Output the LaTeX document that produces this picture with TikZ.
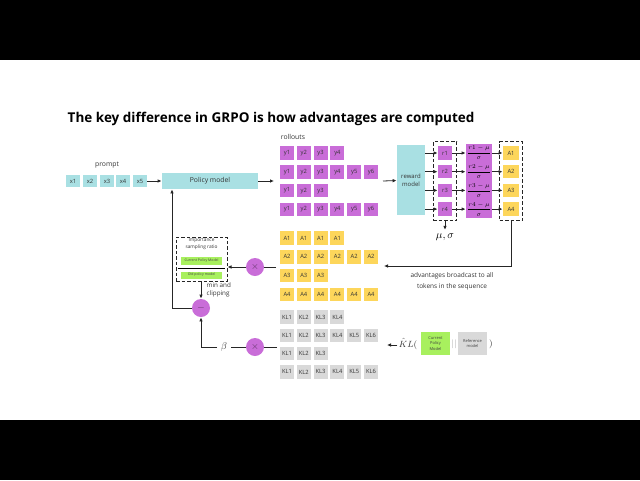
\documentclass[tikz,border=0pt]{standalone}
\usepackage{fontspec}
\setmainfont{Open Sans}
\setsansfont{Open Sans}
\usepackage{xcolor}
\definecolor{colPrompt}{HTML}{A9E0E3}
\definecolor{colRoll}{HTML}{C96DD8}
\definecolor{colAdv}{HTML}{FDD65B}
\definecolor{colKL}{HTML}{D9D9D9}
\definecolor{colPol}{HTML}{A8F05E}
\colorlet{colLine}{black!85}
\usepackage{amsmath}
\usepackage{tikz}
\usetikzlibrary{arrows.meta, positioning, calc, fit}

\begin{document}
\begin{tikzpicture}[x=1pt, y=-1pt, line width=0.8pt, >={Latex[length=4pt, width=3.6pt]},
	tok/.style={minimum width=14pt, minimum height=13.5pt, inner sep=0pt, text=black!80, font=\fontsize{5.8}{6}\selectfont},
	lbl/.style={text=black!80, font=\fontsize{6.8}{8}\selectfont},
	dashbox/.style={draw=colLine, dash pattern=on 3.5pt off 2pt, line width=1pt},
	opcirc/.style={circle, fill=colRoll, minimum size=18pt, inner sep=0pt, text=colRoll!45!black},
	frac/.style={fill=colRoll, minimum width=26pt, minimum height=18.5pt, inner sep=0pt, font=\fontsize{6.2}{7}\selectfont}]
	\useasboundingbox (0,0) rectangle (640,480);
	\fill[black] (0,0) rectangle (640,60);
	\fill[black] (0,420) rectangle (640,480);
	\node[anchor=west, font=\bfseries\fontsize{13.5}{15}\selectfont] (title) at (64,119) {The key difference in GRPO is how advantages are computed};
	% prompt and policy model
	\node[lbl] (prompt) at (107,165) {prompt};
	\foreach \c [count=\i] in {73,90,107,123,140}
		\node[tok, fill=colPrompt, minimum height=12.5pt] (x\i) at (\c,181) {x\i};
	\node[fill=colPrompt, minimum width=96pt, minimum height=16pt, inner sep=0pt, lbl] (policy) at (210,181) {Policy model};
	\draw[->, colLine] (x5) -- (policy);
	% rollouts
	\node[lbl] (rollouts) at (293,137) {rollouts};
	\foreach \len [count=\r] in {4,6,3,6} {
		\foreach \c in {1,...,\len}
			\node[tok, fill=colRoll] (y\r\c) at ({287+16.8*(\c-1)}, {153+18.8*(\r-1)}) {y\c};
	}
	\coordinate (rollin) at (274,181);
	\coordinate (rollout) at (383,181);
	\draw[->, colLine] (policy) -- (rollin);
	% reward model and normalisation
	\node[fill=colPrompt, minimum width=28pt, minimum height=70pt, inner sep=0pt, align=center, font=\fontsize{6}{7.5}\selectfont, text=black!80] (reward) at (411,180) {reward\\model};
	\draw[->, colLine] (rollout) -- (reward);
	\foreach \i in {1,...,4} {
		\node[tok, fill=colRoll] (r\i) at (445, {153+18.7*(\i-1)}) {r\i};
		\node[frac] (f\i) at (479, {153+18.7*(\i-1)}) {$\dfrac{r\i-\mu}{\sigma}$};
		\node[tok, fill=colAdv, minimum width=16pt] (a\i) at (511, {153+18.7*(\i-1)}) {A\i};
	}
	\node[dashbox, fit=(r1)(r4), inner xsep=4.5pt, inner ysep=4pt] (rbox) {};
	\node[dashbox, fit=(a1)(a4), inner xsep=3pt, inner ysep=4pt] (abox) {};
	\foreach \i in {1,...,4} {
		\draw[->, colLine] (reward.east |- r\i) -- (r\i);
		\draw[->, colLine] (r\i) -- (f\i);
		\draw[->, colLine] (f\i) -- (a\i);
	}
	\node[font=\fontsize{11}{12}\selectfont] (musig) at (445,237) {$\mu,\sigma$};
	\draw[->, colLine] (rbox.south) -- (musig.north);
	% advantages
	\foreach \len [count=\r] in {4,6,3,6} {
		\foreach \c in {1,...,\len}
			\node[tok, fill=colAdv] (adv\r\c) at ({287+16.8*(\c-1)}, {238+18.8*(\r-1)}) {A\r};
	}
	\coordinate (bcend) at (384,266);
	\draw[->, colLine] (abox.south) |- (bcend);
	\node[lbl, align=center, font=\fontsize{6.5}{11}\selectfont] (bctext) at (452,281) {advantages broadcast to all\\tokens in the sequence};
	% importance sampling ratio
	\node[dashbox, minimum width=51pt, minimum height=44pt] (isr) at (201.5,259) {};
	\node[align=center, text=black!80, font=\fontsize{4.8}{7}\selectfont] (isrtext) at (201.5,244) {Importance\\sampling ratio};
	\node[fill=colPol, minimum width=41pt, minimum height=8pt, inner sep=0pt, font=\fontsize{3.5}{4}\selectfont, text=black!75] (curpol) at (201.5,261) {Current Policy Model};
	\node[fill=colPol, minimum width=41pt, minimum height=7pt, inner sep=0pt, font=\fontsize{3.5}{4}\selectfont, text=black!75] (oldpol) at (201.5,275) {Old policy model};
	\draw[line width=0.6pt] ($(curpol.south west)+(-3,3)$) -- ($(curpol.south east)+(3,3)$);
	\node[opcirc] (mulA) at (255,267) {$\times$};
	\coordinate (advout) at (276,267);
	\draw[colLine] (advout) -- (mulA);
	\draw[->, colLine] (mulA) -- (isr.east |- mulA);
	\node[opcirc] (minus) at (201,308) {$-$};
	\draw[->, colLine] (isr.south -| minus) -- (minus);
	\node[lbl, align=left, font=\fontsize{6.3}{8}\selectfont, anchor=west] (minclip) at (203,290) {min and\\clipping};
	\coordinate (fbx) at (172,0);
	\draw[->, colLine] (minus.west) -| (fbx |- policy.south);
	% KL penalty
	\foreach \len [count=\r] in {4,6,3,6} {
		\foreach \c in {1,...,\len}
			\node[tok, fill=colKL] (kl\r\c) at ({287+16.8*(\c-1)}, {317+18.3*(\r-1)}) {KL\c};
	}
	\node[opcirc] (mulKL) at (255,347) {$\times$};
	\node[font=\fontsize{10}{12}\selectfont, text=black!80] (beta) at (224,347) {$\beta$};
	\coordinate (klout) at (277,347);
	\draw[colLine] (klout) -- (mulKL);
	\draw[colLine] (mulKL) -- (beta);
	\draw[->, colLine] (beta.west) -| (minus.south);
	\node[inner sep=1pt, font=\fontsize{9.5}{11}\selectfont, text=black!80] (klhat) at (408,344) {$\hat{K}L($};
	\coordinate (klin) at (387,345);
	\draw[->, colLine] (klhat.west |- klin) -- (klin);
	\node[fill=colPol, minimum width=29pt, minimum height=23pt, inner sep=0pt, align=center, font=\fontsize{4}{5.5}\selectfont, text=black!75] (curkl) at (435.5,343.5) {Current\\Policy\\Model};
	\node[inner sep=1pt, font=\fontsize{9}{10}\selectfont, text=black!40] (bars) at (454,344) {$||$};
	\node[fill=colKL, minimum width=29pt, minimum height=23pt, inner sep=0pt, align=center, font=\fontsize{4}{5.5}\selectfont, text=black!75] (refkl) at (472.5,343.5) {Reference\\model};
	\node[inner sep=1pt, font=\fontsize{9.5}{11}\selectfont, text=black!80] (close) at (491,344) {$)$};
\end{tikzpicture}
\end{document}
